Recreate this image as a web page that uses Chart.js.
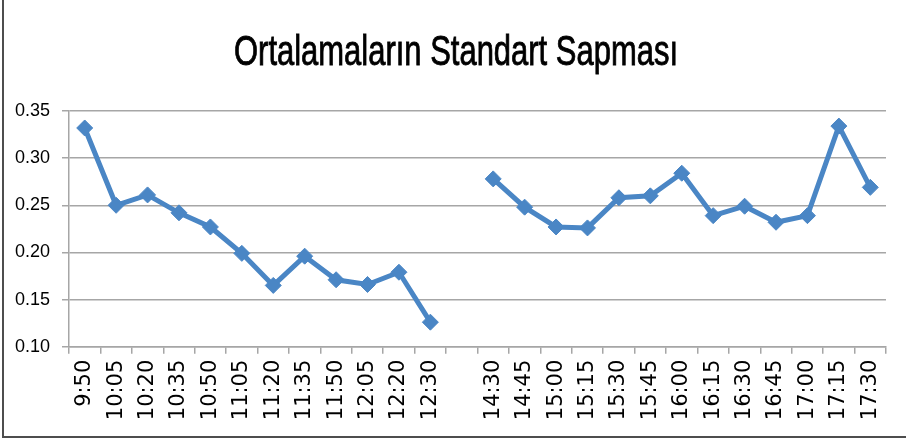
<!DOCTYPE html>
<html>
<head>
<meta charset="utf-8">
<script src="https://cdn.jsdelivr.net/npm/chart.js@4.4.0/dist/chart.umd.min.js"></script>
<style>
  body { margin: 0; background: #fff; }
  #wrap { position: relative; width: 906px; height: 441px; }
</style>
</head>
<body>
<div id="wrap"><canvas id="sdChart" width="906" height="441"></canvas></div>
<script>
// time slots, empty slot is the lunch break gap
const timeLabels = ['9:50', '10:05', '10:20', '10:35', '10:50', '11:05', '11:20', '11:35', '11:50', '12:05', '12:20', '12:30',
  '', '14:30', '14:45', '15:00', '15:15', '15:30', '15:45', '16:00', '16:15', '16:30', '16:45', '17:00', '17:15', '17:30'];
const stdDevValues = [0.332, 0.250, 0.261, 0.242, 0.227, 0.199, 0.165, 0.196, 0.171, 0.166, 0.179, 0.126,
  null, 0.278, 0.248, 0.227, 0.226, 0.258, 0.260, 0.284, 0.239, 0.249, 0.232, 0.239, 0.334, 0.269];
const yTicks = [0.10, 0.15, 0.20, 0.25, 0.30, 0.35];
const chartTitle = 'Ortalamaların Standart Sapması';

const lineColor = '#4A86C5';
const gridColor = '#a6a6a6';

// title is drawn a bit condensed, like the original picture
const titlePlugin = {
  id: 'condensedTitle',
  afterDraw(chart) {
    const c = chart.ctx;
    c.save();
    c.translate(456, 65);
    c.scale(0.72, 1);
    c.fillStyle = '#000';
    c.strokeStyle = '#000';
    c.lineWidth = 0.9;
    c.font = "43px 'Liberation Sans', sans-serif";
    c.textAlign = 'center';
    c.textBaseline = 'alphabetic';
    c.fillText(chartTitle, 0, 0);
    c.strokeText(chartTitle, 0, 0); // slightly heavier strokes
    c.restore();
  }
};

// frame lines on left and bottom edge of the picture
const framePlugin = {
  id: 'frame',
  afterDraw(chart) {
    const c = chart.ctx;
    c.save();
    c.strokeStyle = '#4d4d4d';
    c.lineWidth = 2;
    c.beginPath();
    c.moveTo(3, 0);
    c.lineTo(3, 437);
    c.lineTo(906, 437);
    c.stroke();
    c.restore();
  }
};

const ctx = document.getElementById('sdChart').getContext('2d');
new Chart(ctx, {
  type: 'line',
  data: {
    labels: timeLabels,
    datasets: [{
      data: stdDevValues,
      borderColor: lineColor,
      backgroundColor: lineColor,
      borderWidth: 5,
      pointStyle: 'rectRot',
      pointRadius: 8,
      pointBorderWidth: 1,
      spanGaps: false,
      tension: 0
    }]
  },
  options: {
    responsive: false,
    animation: false,
    layout: { padding: { left: 0, right: 20, top: 111, bottom: 0 } },
    plugins: {
      legend: { display: false },
      tooltip: { enabled: false },
      title: { display: false }
    },
    scales: {
      x: {
        offset: true,
        grid: { offset: true, drawOnChartArea: false, drawTicks: true, tickLength: 7, color: gridColor, lineWidth: 1.5 },
        border: { color: gridColor, width: 1.5 },
        ticks: {
          autoSkip: false,
          minRotation: 90,
          maxRotation: 90,
          padding: 6,
          color: '#000',
          font: { family: "'DejaVu Sans', sans-serif", size: 21 }
        },
        afterFit(scale) { scale.height = 94.3; }
      },
      y: {
        min: 0.10,
        max: 0.35,
        afterBuildTicks(scale) { scale.ticks = yTicks.map(v => ({ value: v })); },
        grid: { color: gridColor, lineWidth: 1.5, tickLength: 7 },
        border: { color: gridColor, width: 1.5 },
        ticks: {
          padding: 12,
          color: '#000',
          font: { family: "'Liberation Sans', sans-serif", size: 18 },
          callback: v => v.toFixed(2)
        },
        afterFit(scale) { scale.width = 69; }
      }
    }
  },
  plugins: [titlePlugin, framePlugin]
});
</script>
</body>
</html>
